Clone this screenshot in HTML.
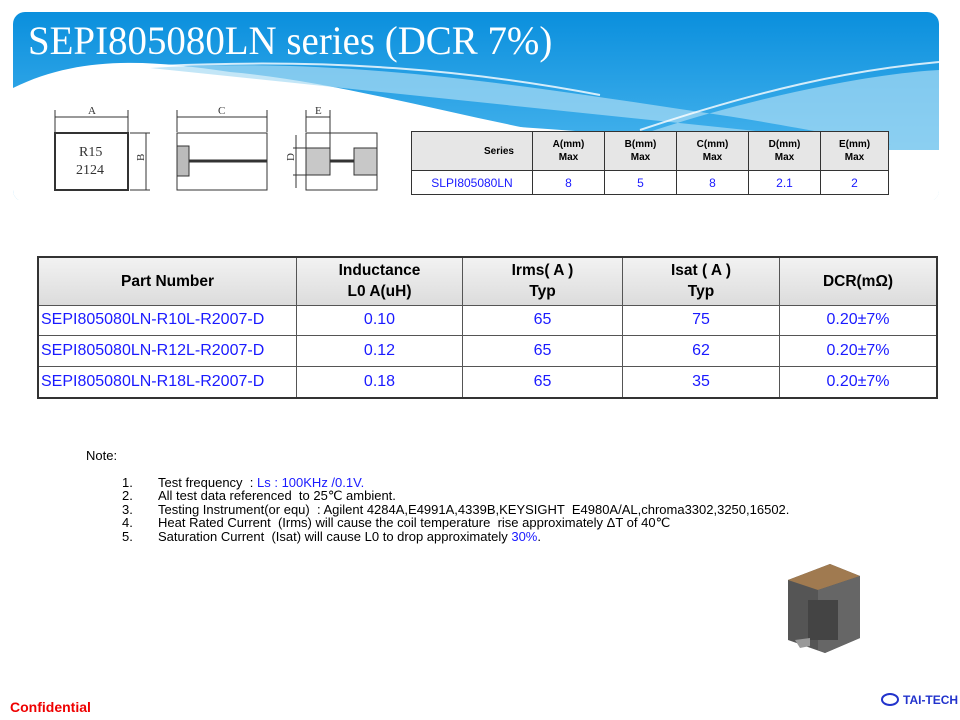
<!DOCTYPE html>
<html><head><meta charset="utf-8"><style>
body{margin:0;width:960px;height:720px;position:relative;background:#fff;overflow:hidden;font-family:"Liberation Sans",sans-serif}
.a{position:absolute}
table{border-collapse:collapse;position:absolute;table-layout:fixed}
td{padding:0;text-align:center}
#mt td{border:1px solid #555;font-size:16px;color:#1a1aff}
#mt tr.h td{background:linear-gradient(#f2f2f2,#dcdcdc);color:#000;font-weight:bold;font-size:15.5px;line-height:21px}
#mt{border:2px solid #333}
#st td{border:1px solid #333;font-size:12px;color:#1a1aff}
#st tr.h td{background:#e6e6e6;color:#000;font-weight:bold;font-size:10px;line-height:13px}
.n{font-size:13px;color:#000;white-space:nowrap;line-height:13.4px}
.b{color:#1a1aff}
</style></head><body>
<svg class="a" style="left:0;top:0" width="960" height="200">
<defs><linearGradient id="g" x1="0" y1="0" x2="0" y2="1"><stop offset="0" stop-color="#0a8fdd"/><stop offset="1" stop-color="#5cc0f2"/></linearGradient>
<clipPath id="c"><rect x="13" y="12" width="926" height="190" rx="12"/></clipPath></defs>
<g clip-path="url(#c)">
<rect x="13" y="12" width="926" height="190" fill="url(#g)"/>
<path d="M13 88 C80 55 150 60 230 72 C380 85 560 150 700 150 L939 150 L939 202 L13 202Z" fill="#fff"/>
<path d="M150 68 C350 55 550 90 720 115 C820 130 900 150 939 150 L939 70 C850 75 700 110 600 150 L939 150" fill="#a9dcf3" opacity="0.7"/>
<path d="M300 120 C450 120 600 130 760 150 L939 150 L939 202 L300 202Z" fill="#fff"/>
<path d="M160 66 C330 58 470 70 600 95" stroke="#fff" stroke-width="2" fill="none" opacity="0.8"/>
<path d="M640 130 C760 90 850 70 939 62" stroke="#fff" stroke-width="2" fill="none" opacity="0.8"/>
</g>
<g stroke="#333" fill="none" stroke-width="1">
<rect x="55" y="133" width="73" height="57" stroke-width="2"/>
<line x1="55" y1="117" x2="128" y2="117"/>
<line x1="55" y1="110" x2="55" y2="132"/><line x1="128" y1="110" x2="128" y2="132"/>
<line x1="130" y1="133" x2="150" y2="133"/><line x1="130" y1="190" x2="150" y2="190"/><line x1="146" y1="133" x2="146" y2="190"/>
<rect x="177" y="133" width="90" height="57" fill="#fff"/>
<line x1="177" y1="117" x2="267" y2="117"/>
<line x1="177" y1="110" x2="177" y2="132"/><line x1="267" y1="110" x2="267" y2="132"/>
<rect x="177" y="146" width="12" height="30" fill="#bbb"/>
<line x1="189" y1="161" x2="267" y2="161" stroke-width="3"/>
<rect x="306" y="133" width="71" height="57"/>
<rect x="306" y="148" width="24" height="27" fill="#c8c8c8"/>
<rect x="354" y="148" width="23" height="27" fill="#c8c8c8"/>
<line x1="330" y1="161" x2="354" y2="161" stroke-width="3"/>
<line x1="306" y1="117" x2="330" y2="117"/><line x1="306" y1="110" x2="306" y2="132"/><line x1="330" y1="110" x2="330" y2="148"/>
<line x1="293" y1="148" x2="306" y2="148"/><line x1="293" y1="175" x2="306" y2="175"/><line x1="296" y1="135" x2="296" y2="188"/>
</g>
<g font-family="Liberation Serif" font-size="11" fill="#333">
<text x="88" y="114">A</text><text x="218" y="114">C</text><text x="315" y="114">E</text>
<text x="140" y="165" transform="rotate(-90 140 161)">B</text><text x="290" y="165" transform="rotate(-90 290 161)">D</text>
<text x="79" y="156" font-size="14">R15</text><text x="76" y="174" font-size="14">2124</text>
</g>
</svg>
<div class="a" style="left:28px;top:17px;font-family:'Liberation Serif',serif;font-size:40px;color:#fff;white-space:nowrap;transform:scaleX(0.973);transform-origin:0 0">SEPI805080LN series (DCR 7%)</div>
<table id="st" style="left:411px;top:131px;width:478px;height:64px">
<tr class="h" style="height:39px"><td style="width:121px;text-align:right;padding-right:18px;box-sizing:border-box">Series</td><td style="width:71px">A(mm)<br>Max</td><td style="width:71px">B(mm)<br>Max</td><td style="width:71px">C(mm)<br>Max</td><td style="width:71px">D(mm)<br>Max</td><td>E(mm)<br>Max</td></tr>
<tr><td>SLPI805080LN</td><td>8</td><td>5</td><td>8</td><td>2.1</td><td>2</td></tr>
</table>
<table id="mt" style="left:37px;top:256px;width:901px;height:143px">
<tr class="h" style="height:48px"><td style="width:257px">Part Number</td><td style="width:165px">Inductance<br>L0 A(uH)</td><td style="width:159px">Irms( A )<br>Typ</td><td style="width:156px">Isat ( A )<br>Typ</td><td>DCR(mΩ)</td></tr>
<tr><td style="text-align:left;padding-left:2px">SEPI805080LN-R10L-R2007-D</td><td>0.10</td><td>65</td><td>75</td><td>0.20±7%</td></tr>
<tr><td style="text-align:left;padding-left:2px">SEPI805080LN-R12L-R2007-D</td><td>0.12</td><td>65</td><td>62</td><td>0.20±7%</td></tr>
<tr><td style="text-align:left;padding-left:2px">SEPI805080LN-R18L-R2007-D</td><td>0.18</td><td>65</td><td>35</td><td>0.20±7%</td></tr>
</table>
<div class="a n" style="left:86px;top:449px">Note:</div>
<div class="a n" style="left:122px;top:476px">1.<br>2.<br>3.<br>4.<br>5.</div>
<div class="a n" style="left:158px;top:476px">Test frequency &nbsp;: <span class="b">Ls : 100KHz /0.1V.</span><br>All test data referenced &nbsp;to 25℃ ambient.<br>Testing Instrument(or equ) &nbsp;: Agilent 4284A,E4991A,4339B,KEYSIGHT &nbsp;E4980A/AL,chroma3302,3250,16502.<br>Heat Rated Current &nbsp;(Irms) will cause the coil temperature &nbsp;rise approximately ΔT of 40℃<br>Saturation Current &nbsp;(Isat) will cause L0 to drop approximately <span class="b">30%</span>.</div>
<svg class="a" style="left:780px;top:560px" width="100" height="100">
<polygon points="8,20 50,4 80,16 80,78 45,93 8,80" fill="#555"/>
<polygon points="8,20 50,4 80,16 38,30" fill="#a07a50"/>
<polygon points="38,30 80,16 80,78 45,93 38,90" fill="#666"/>
<rect x="28" y="40" width="30" height="40" fill="#444"/>
<polygon points="15,80 30,78 30,86 20,88" fill="#999"/>
</svg>
<div class="a" style="left:10px;top:699px;color:#e00;font-weight:bold;font-size:14px">Confidential</div>
<div class="a" style="left:881px;top:693px;width:18px;height:13px;border:2px solid #2233cc;border-radius:50%;box-sizing:border-box;background:#fff"></div>
<div class="a" style="left:903px;top:693px;color:#2233cc;font-weight:bold;font-size:12px">TAI-TECH</div>
</body></html>
